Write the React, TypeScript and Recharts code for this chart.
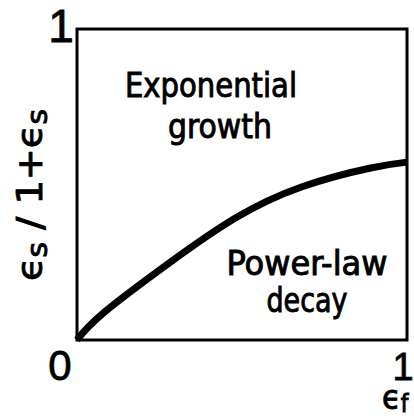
import React from 'react';
import { ComposedChart, Line, XAxis, YAxis, ReferenceArea, Customized } from 'recharts';

// boundary curve between the two regimes
const strainF = [0, 0.08, 0.28, 0.48, 0.68, 0.89, 1];
const boundary = [0, 0.087, 0.248, 0.392, 0.492, 0.553, 0.572];
const xTicks = [0, 1];
const yTicks = [0, 1];

const data = strainF.map((x, i) => ({ x, y: boundary[i] }));

const FONT = "'DejaVu Sans Condensed', 'Liberation Sans Narrow', sans-serif";
const DIGIT_FONT = "'Liberation Sans', Arial, sans-serif";

const XTick = (props: any) => {
  const { x, y, payload } = props;
  const isZero = payload.value === 0;
  return (
    <text
      x={x + (isZero ? -17 : -4)}
      y={y}
      dy={40}
      textAnchor="middle"
      fontFamily={DIGIT_FONT}
      fontSize={isZero ? 42 : 38}
      fill="#000"
      stroke="#000"
      strokeWidth={0.8}
    >
      {payload.value}
    </text>
  );
};

const YTick = (props: any) => {
  const { y, payload } = props;
  if (payload.value !== 1) return null;
  return (
    <text
      x={61}
      y={y}
      dy={13}
      textAnchor="middle"
      fontFamily={DIGIT_FONT}
      fontSize={46}
      fill="#000"
      stroke="#000"
      strokeWidth={0.8}
    >
      1
    </text>
  );
};

const Annotations = () => (
  <g fontFamily={FONT} fill="#000" stroke="#000" strokeWidth={0.9} fontSize={34}>
    <text x={211} y={97} textAnchor="middle" textLength={172} lengthAdjust="spacingAndGlyphs">
      Exponential
    </text>
    <text x={220} y={138} textAnchor="middle" textLength={104} lengthAdjust="spacingAndGlyphs">
      growth
    </text>
    <text x={307} y={275} textAnchor="middle" textLength={161} lengthAdjust="spacingAndGlyphs">
      Power-law
    </text>
    <text x={307} y={312} textAnchor="middle" textLength={81} lengthAdjust="spacingAndGlyphs">
      decay
    </text>
    <text x={42} y={195} transform="rotate(-90 42 195)" textAnchor="middle" fontSize={36} textLength={172} lengthAdjust="spacingAndGlyphs">
      ϵ<tspan fontSize={28} dy={5}>s</tspan>
      <tspan dy={-5}> / 1+ϵ</tspan>
      <tspan fontSize={28} dy={5}>s</tspan>
    </text>
    <text x={382} y={409} fontSize={34}>
      ϵ<tspan fontSize={24} dy={3}>f</tspan>
    </text>
  </g>
);

export default function App() {
  return (
    <div style={{ position: 'absolute', left: 0, top: 0, background: '#fff' }}>
      <ComposedChart
        width={414}
        height={419}
        data={data}
        margin={{ top: 29, right: 7, left: 0, bottom: 0 }}
      >
        <XAxis
          type="number"
          dataKey="x"
          domain={[0, 1]}
          ticks={xTicks}
          axisLine={false}
          tickLine={false}
          tickSize={0}
          tickMargin={0}
          height={79}
          tick={<XTick />}
          interval={0}
        />
        <YAxis
          type="number"
          domain={[0, 1]}
          ticks={yTicks}
          axisLine={false}
          tickLine={false}
          width={77}
          tick={<YTick />}
          interval={0}
        />
        <ReferenceArea x1={0} x2={1} y1={0} y2={1} stroke="#000" strokeWidth={3} fill="none" fillOpacity={0} />
        <Line
          type="natural"
          dataKey="y"
          stroke="#000"
          strokeWidth={7}
          dot={false}
          activeDot={false}
          isAnimationActive={false}
        />
        <Customized component={Annotations} />
      </ComposedChart>
    </div>
  );
}
